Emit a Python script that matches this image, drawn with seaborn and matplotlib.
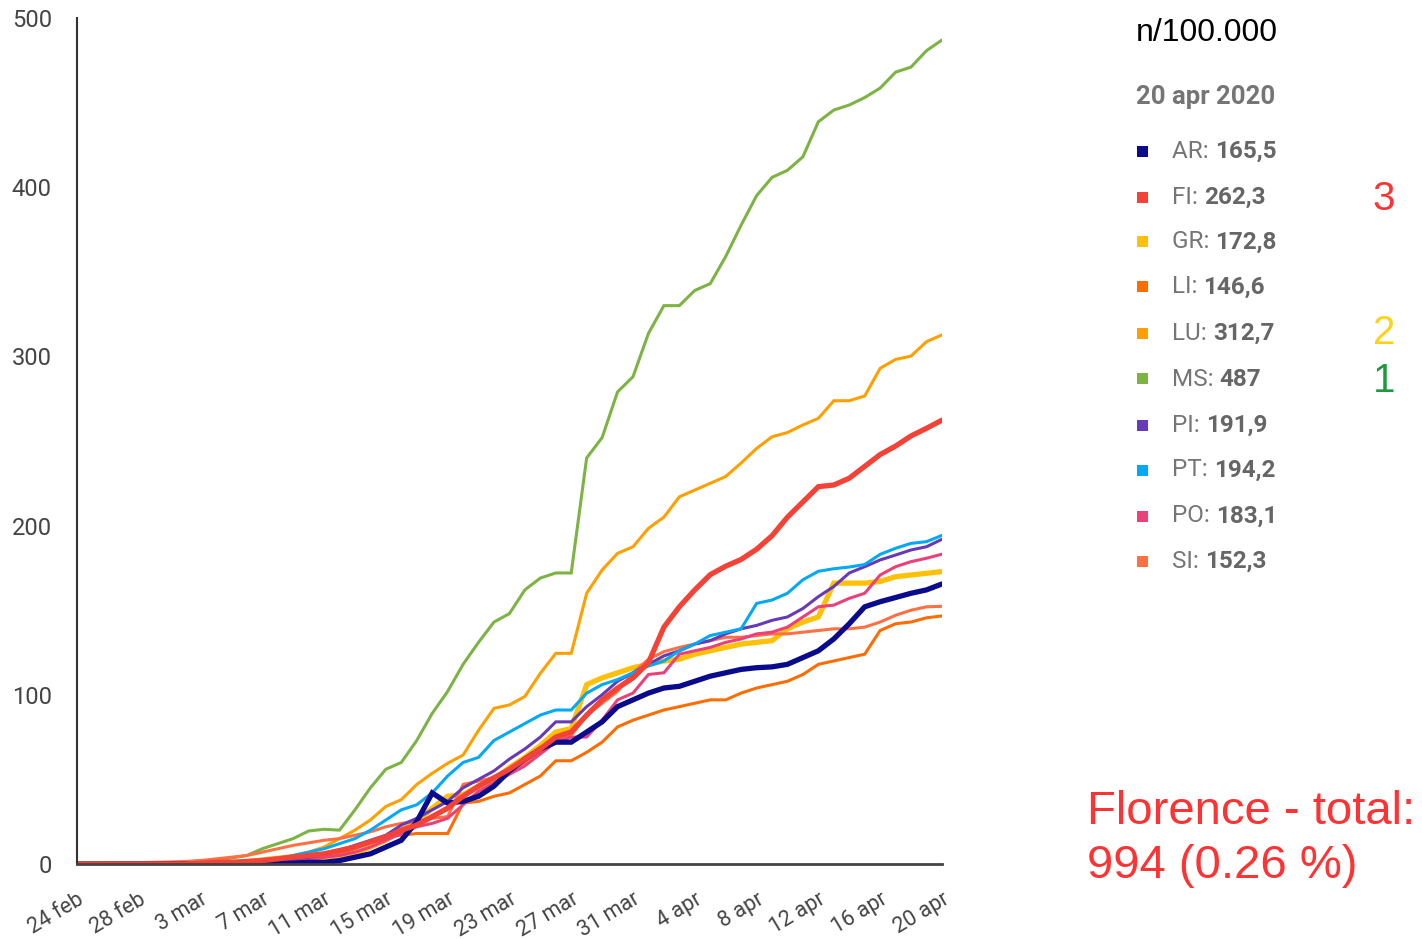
import numpy as np
import pandas as pd
import matplotlib
matplotlib.use("Agg")
import matplotlib.pyplot as plt
import seaborn as sns

# ---------------- data ----------------
days = np.arange(57)  # 24 feb .. 20 apr 2020
tick_labels = ["24 feb", "28 feb", "3 mar", "7 mar", "11 mar", "15 mar", "19 mar",
               "23 mar", "27 mar", "31 mar", "4 apr", "8 apr", "12 apr", "16 apr", "20 apr"]

AR = [0, 0, 0, 0, 0, 0, 0, 0,
      0, 0, 0, 0, 0, 0.5, 0.5, 1, 1, 2, 4, 6, 10, 14, 25, 42,
      36, 37, 40, 46, 55, 62, 68, 72, 72, 78, 84, 93, 97, 101, 104, 105,
      108, 111, 113, 115, 116, 116.5, 118, 122, 126, 133, 142, 152,
      155, 157.5, 160, 162, 165.5]
FI = [0, 0, 0, 0, 0, 0, 0, 0,
      0.5, 1, 1, 1.5, 2, 3, 4, 5, 6, 8, 10, 13, 16, 20, 23, 28,
      33, 40, 46, 51, 56, 62, 68, 75, 78, 88, 97, 104, 110, 119, 140, 152,
      162, 171, 176, 180, 186, 194, 205, 214, 223, 224, 228, 235,
      242, 247, 253, 257.5, 262.3]
GR = [0, 0, 0, 0, 0, 0, 0, 0,
      0, 0, 0.5, 0.5, 1, 1.5, 2, 3, 4, 5, 6, 10, 14, 20, 25, 33,
      40, 41, 46, 50, 57, 63, 70, 78, 80, 106, 110, 113, 116, 118, 120, 121,
      124, 126, 128, 130, 131, 132, 139, 143, 146, 166, 166, 166,
      167, 169.8, 170.8, 171.8, 172.8]
LI = [0, 0, 0, 0, 0, 0, 0, 0,
      0, 0, 0, 0.5, 1, 1.5, 2, 3, 4, 6, 9, 13, 16, 17, 18, 18,
      18, 36, 37, 40, 42, 47, 52, 61, 61, 66, 72, 81, 85, 88, 91, 93,
      95, 97, 97, 101, 104, 106, 108, 112, 118, 120, 122, 124,
      138, 142, 143, 145.5, 146.6]
LU = [0, 0, 0, 0, 0, 0, 0, 0.5,
      1, 1, 1.5, 2, 3, 4, 5, 7, 10, 15, 20, 26, 34, 38, 47, 53.6,
      59.5, 64.4, 79, 92, 94, 99, 112.7, 124.5, 124.5, 160, 173.8, 183.6,
      187.5, 198.4, 205, 217, 221, 225, 229, 237, 245.6, 252.5, 255, 259.5,
      263.4, 273.8, 273.8, 276.6, 293, 298.2, 300.2, 308.7, 312.7]
MS = [0, 0, 0, 0, 0, 0, 0.5, 1,
      2, 2, 3.5, 5, 9, 12, 15, 19.5, 20.5, 20, 32, 45, 56, 60, 73, 89,
      102, 118, 131, 143, 148, 162, 169, 172, 172, 240, 252, 279,
      288, 313.6, 330, 330, 339, 343, 359, 377.6, 395, 405.8, 410, 418,
      438.7, 445.6, 448.6, 453, 458.6, 468, 471, 480.7, 487]
PI = [0, 0, 0, 0, 0, 0, 0, 0,
      0, 0.5, 0.5, 1, 1.5, 2, 3, 4, 6, 8, 11, 14, 17, 23, 27, 32,
      37, 45, 50, 55, 62, 68, 75, 84, 84, 93, 100, 108, 113, 118, 123, 126,
      130, 132, 136, 139, 141, 144, 146, 151, 158, 164, 172, 175.7,
      179.7, 182.6, 185.6, 187.5, 191.9]
PT = [0, 0, 0, 0, 0, 0, 0, 0,
      0.5, 0.5, 1, 1.5, 2, 3, 5, 7, 9, 12, 15, 20, 26, 32, 35, 42,
      52, 60, 63, 73, 78, 83, 88, 91, 91, 101, 106, 109, 113, 117, 120, 126,
      130, 135, 137, 139, 154, 156, 160, 168, 173, 174.5, 175.5, 177,
      183, 186.6, 189.5, 190.5, 194.2]
PO = [0, 0, 0, 0, 0, 0, 0, 0,
      0, 0, 0.5, 0.5, 1, 1.5, 2, 3, 4, 5, 7, 10, 14, 18, 22, 24,
      27, 35, 43, 48, 53, 58, 65, 72, 75, 75, 85, 97, 101, 112, 113, 124,
      126, 128, 131, 133, 136, 137, 140, 146, 152, 153, 157, 160,
      170.8, 175.7, 178.7, 180.7, 183.1]
SI = [0, 0, 0.3, 0.5, 0.8, 1, 1.2, 1.5,
      2, 3, 4, 5, 7, 9, 11, 12.5, 14, 15, 17, 19, 22, 24, 25, 27,
      28, 47, 49, 51, 55, 60, 67, 74, 76, 88, 95, 102, 113, 121, 125.5, 128,
      130, 132, 134, 134, 135, 136, 136, 137, 138, 139, 139, 140,
      143, 147, 150, 152, 152.3]

provinces = ["AR", "FI", "GR", "LI", "LU", "MS", "PI", "PT", "PO", "SI"]
final_values = ["165,5", "262,3", "172,8", "146,6", "312,7", "487", "191,9", "194,2", "183,1", "152,3"]
series = {"AR": AR, "FI": FI, "GR": GR, "LI": LI, "LU": LU, "MS": MS,
          "PI": PI, "PT": PT, "PO": PO, "SI": SI}

colors = {"AR": "#0a0a8c", "FI": "#f44336", "GR": "#ffc107", "LI": "#ff6d00",
          "LU": "#ffa000", "MS": "#7cb342", "PI": "#673ab7", "PT": "#03a9f4",
          "PO": "#ec407a", "SI": "#ff7043"}
widths = {"AR": 3.8, "FI": 3.8, "GR": 3.8, "LI": 2.2, "LU": 2.2, "MS": 2.2,
          "PI": 2.2, "PT": 2.2, "PO": 2.2, "SI": 2.2}
draw_order = ["GR", "LI", "LU", "MS", "SI", "PO", "PI", "PT", "AR", "FI"]

df = pd.DataFrame([(p, d, v) for p in provinces for d, v in zip(days, series[p])],
                  columns=["prov", "day", "value"])

# ---------------- figure ----------------
sns.set_style("white")
plt.rcParams["font.family"] = ["Roboto", "DejaVu Sans"]

fig = plt.figure(figsize=(14.22, 9.39), dpi=100)
ax = fig.add_axes([0.0541, 0.0799, 0.6083, 0.9009])

for p in draw_order:
    sns.lineplot(data=df[df["prov"] == p], x="day", y="value", ax=ax,
                 color=colors[p], linewidth=widths[p], legend=False,
                 solid_joinstyle="miter")

ax.set_xlim(0, 56)
ax.set_ylim(0, 500)
ax.set_xlabel("")
ax.set_ylabel("")
ax.set_yticks([0, 100, 200, 300, 400, 500])
ax.set_xticks(days[::4])
ax.set_xticklabels(tick_labels, rotation=31, ha="right", rotation_mode="anchor")
ax.tick_params(axis="y", length=0, pad=18, labelsize=17, labelcolor="#444444")
ax.tick_params(axis="x", length=0, pad=18, labelsize=15.5, labelcolor="#444444")
for s in ["top", "right"]:
    ax.spines[s].set_visible(False)
ax.spines["left"].set_color("#333333")
ax.spines["left"].set_linewidth(1.5)
ax.spines["bottom"].set_color("#444444")
ax.spines["bottom"].set_linewidth(2)
ax.grid(False)

# ---------------- legend panel ----------------
W, H = 1422.0, 939.0
def fx(px):
    return px / W
def fy(py):
    return 1 - py / H

fig.text(fx(1136), fy(33), "n/100.000", fontsize=23, color="black",
         family=["Liberation Sans", "DejaVu Sans"], va="center", ha="left")
fig.text(fx(1136), fy(97), "20 apr 2020", fontsize=18.5, color="#757575",
         fontweight="bold", va="center", ha="left")

rows_y = [151, 197, 242, 287, 333, 379, 425, 470, 516, 561]
for p, val, yy in zip(provinces, final_values, rows_y):
    fig.patches.append(plt.Rectangle((fx(1137), fy(yy) - 5.5 / H), 11 / W, 11 / H,
                                     transform=fig.transFigure, facecolor=colors[p],
                                     edgecolor="none"))
    t = fig.text(fx(1172), fy(yy), p + ": ", fontsize=17.5, color="#757575",
                 va="center", ha="left")
    ax.annotate(val, xy=(1, 0.5), xycoords=t, va="center", ha="left",
                fontsize=17.5, color="#666666", fontweight="bold",
                annotation_clip=False)

rank_font = ["Liberation Sans", "DejaVu Sans"]
fig.text(fx(1384), fy(199), "3", fontsize=29, color="#ff3333", ha="center",
         va="center", family=rank_font)
fig.text(fx(1384), fy(333), "2", fontsize=29, color="#ffd21a", ha="center",
         va="center", family=rank_font)
fig.text(fx(1384), fy(381), "1", fontsize=29, color="#1e9a3c", ha="center",
         va="center", family=rank_font)

fig.text(fx(1087), fy(812), "Florence - total:", fontsize=34, color="#ff3333",
         ha="left", va="center", family=rank_font)
fig.text(fx(1087), fy(866), "994 (0.26 %)", fontsize=34, color="#ff3333",
         ha="left", va="center", family=rank_font)

fig.savefig("out.png", dpi=100, facecolor="white")
